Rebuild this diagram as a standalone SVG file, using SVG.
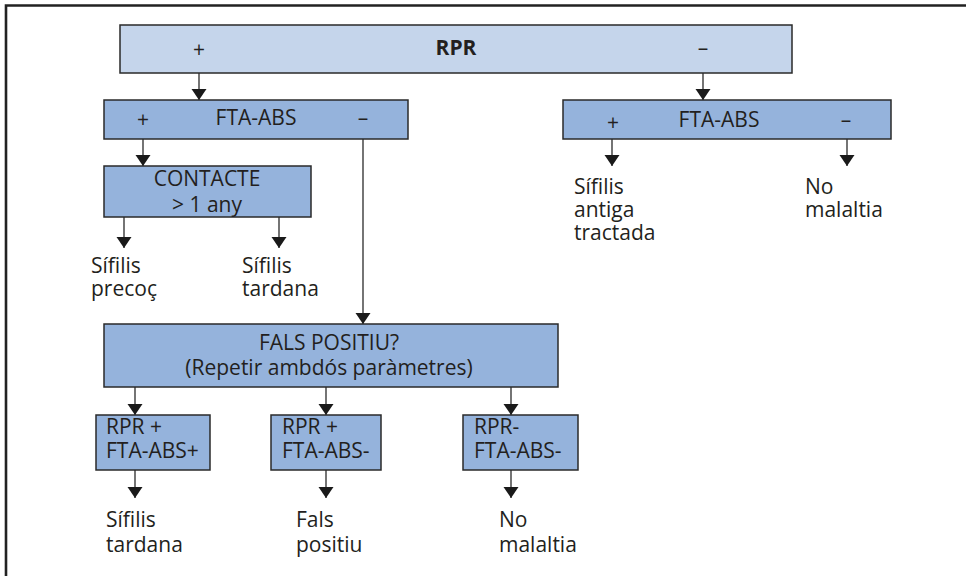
<svg xmlns="http://www.w3.org/2000/svg" width="966" height="576" viewBox="0 0 966 576">
  <style>
    text { font-family: "Open Sans", "Noto Sans", sans-serif; font-size: 21px; fill: #231f20; }
    .c { text-anchor: middle; }
    .b { font-weight: bold; }
    .box { stroke: #2a2a2a; stroke-width: 1.5; }
    .light { fill: #c5d5eb; }
    .mid { fill: #95b3dc; }
    .edge { stroke: #3a3a3a; stroke-width: 1.4; fill: none; marker-end: url(#arrow); }
  </style>
  <defs>
    <marker id="arrow" markerUnits="userSpaceOnUse" viewBox="0 -8 11 16" refX="11" refY="0" markerWidth="11" markerHeight="16" orient="auto">
      <path d="M0,-7.5 L11,0 L0,7.5 z" fill="#1a1a1a"/>
    </marker>
  </defs>

  <rect width="966" height="576" fill="#ffffff"/>
  <!-- frame -->
  <path d="M6,576 V5.5 H966" fill="none" stroke="#222" stroke-width="2.6"/>

  <g id="connectors">
    <line class="edge" x1="199" y1="73" x2="199" y2="100"/>
    <line class="edge" x1="703" y1="73" x2="703" y2="100"/>
    <line class="edge" x1="143" y1="139" x2="143" y2="166"/>
    <line class="edge" x1="363" y1="139" x2="363" y2="324"/>
    <line class="edge" x1="612" y1="139" x2="612" y2="166"/>
    <line class="edge" x1="847" y1="139" x2="847" y2="166"/>
    <line class="edge" x1="124" y1="217" x2="124" y2="248"/>
    <line class="edge" x1="279" y1="217" x2="279" y2="248"/>
    <line class="edge" x1="135" y1="387" x2="135" y2="415"/>
    <line class="edge" x1="326" y1="387" x2="326" y2="415"/>
    <line class="edge" x1="511" y1="387" x2="511" y2="415"/>
    <line class="edge" x1="135" y1="470" x2="135" y2="498"/>
    <line class="edge" x1="326" y1="470" x2="326" y2="498"/>
    <line class="edge" x1="511" y1="470" x2="511" y2="498"/>
  </g>

  <g id="rpr">
    <rect class="box light" x="120" y="25" width="672" height="48"/>
    <text x="199" y="57" class="c">+</text>
    <text x="456" y="55" class="c b">RPR</text>
    <text x="703" y="55" class="c">–</text>
  </g>

  <g id="fta-left">
    <rect class="box mid" x="104" y="100" width="304" height="39"/>
    <text x="143" y="127" class="c">+</text>
    <text x="256" y="125" class="c">FTA-ABS</text>
    <text x="363" y="125" class="c">–</text>
  </g>

  <g id="fta-right">
    <rect class="box mid" x="563" y="100" width="328" height="39"/>
    <text x="613" y="130" class="c">+</text>
    <text x="719" y="127" class="c">FTA-ABS</text>
    <text x="846" y="127" class="c">–</text>
  </g>

  <g id="contacte">
    <rect class="box mid" x="104" y="166" width="207" height="51"/>
    <text x="207" y="186" class="c">CONTACTE</text>
    <text x="207" y="212" class="c">&gt; 1 any</text>
  </g>

  <g id="sifilis-precoc">
    <text x="91" y="273">Sífilis</text>
    <text x="91" y="296">precoç</text>
  </g>
  <g id="sifilis-tardana-1">
    <text x="242" y="273">Sífilis</text>
    <text x="242" y="296">tardana</text>
  </g>

  <g id="sifilis-antiga">
    <text x="574" y="194">Sífilis</text>
    <text x="574" y="217">antiga</text>
    <text x="574" y="240">tractada</text>
  </g>
  <g id="no-malaltia-1">
    <text x="805" y="194">No</text>
    <text x="805" y="217">malaltia</text>
  </g>

  <g id="fals-positiu">
    <rect class="box mid" x="104" y="324" width="454" height="63"/>
    <text x="329" y="350" class="c">FALS POSITIU?</text>
    <text x="329" y="375" class="c">(Repetir ambdós paràmetres)</text>
  </g>

  <g id="rpr-pos-fta-pos">
    <rect class="box mid" x="96" y="415" width="114" height="55"/>
    <text x="106" y="434">RPR +</text>
    <text x="106" y="458">FTA-ABS+</text>
  </g>
  <g id="rpr-pos-fta-neg">
    <rect class="box mid" x="271" y="415" width="110" height="55"/>
    <text x="282" y="434">RPR +</text>
    <text x="282" y="458">FTA-ABS-</text>
  </g>
  <g id="rpr-neg-fta-neg">
    <rect class="box mid" x="463" y="415" width="115" height="55"/>
    <text x="474" y="434">RPR-</text>
    <text x="474" y="458">FTA-ABS-</text>
  </g>

  <g id="sifilis-tardana-2">
    <text x="106" y="527">Sífilis</text>
    <text x="106" y="552">tardana</text>
  </g>
  <g id="fals-positiu-result">
    <text x="296" y="527">Fals</text>
    <text x="296" y="552">positiu</text>
  </g>
  <g id="no-malaltia-2">
    <text x="499" y="527">No</text>
    <text x="499" y="552">malaltia</text>
  </g>
</svg>
